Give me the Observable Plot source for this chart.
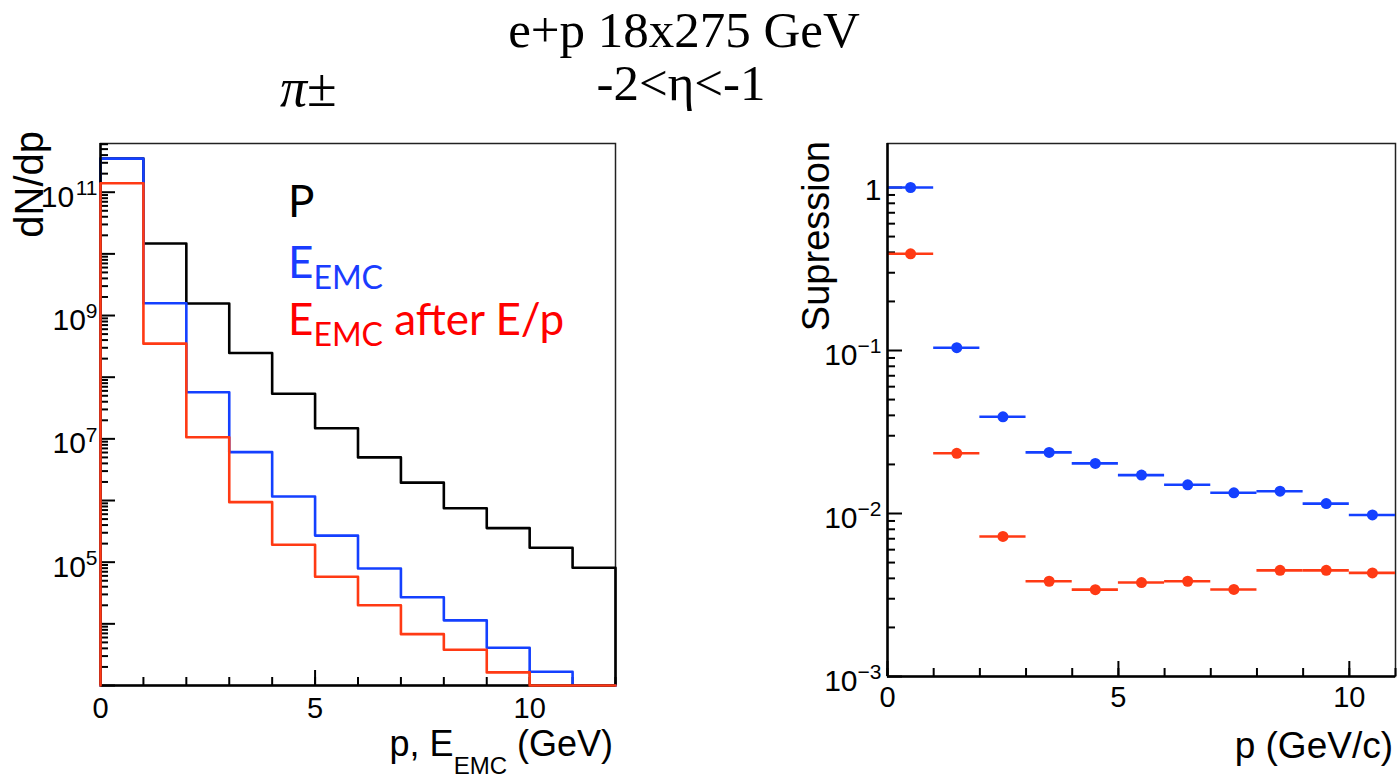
<!DOCTYPE html>
<html>
<head>
<meta charset="utf-8">
<script src="https://cdn.jsdelivr.net/npm/d3@7"></script>
<script src="https://cdn.jsdelivr.net/npm/@observablehq/plot@0.6"></script>
<style>
  html, body { margin: 0; padding: 0; background: #fff; }
  #wrap { position: relative; width: 1399px; height: 782px; overflow: hidden; background: #fff; }
  #left { position: absolute; left: 0; top: 0; }
  #right { position: absolute; left: 700px; top: 0; }
  #overlay { position: absolute; left: 0; top: 0; pointer-events: none; }
</style>
</head>
<body>
<div id="wrap">
  <div id="left"></div>
  <div id="right"></div>
  <svg id="overlay" width="1399" height="782">
    <text x="684" y="47" text-anchor="middle" font-family="Liberation Serif" font-size="51">e+p 18x275 GeV</text>
    <text x="681" y="100" text-anchor="middle" font-family="Liberation Serif" font-size="51">-2&lt;η&lt;-1</text>
    <text x="280" y="106" font-family="Liberation Serif" font-size="54"><tspan font-style="italic">π</tspan>±</text>
    <text transform="translate(43,131) rotate(-90)" text-anchor="end" font-family="Liberation Sans" font-size="40">dN/dp</text>
    <text transform="translate(829,141) rotate(-90)" text-anchor="end" font-family="Liberation Sans" font-size="38">Supression</text>
    <text x="613" y="756" text-anchor="end" font-family="Liberation Sans" font-size="36">p, E<tspan font-size="24" dy="18">EMC</tspan><tspan dy="-18"> (GeV)</tspan></text>
    <text x="1393" y="758" text-anchor="end" font-family="Liberation Sans" font-size="37">p (GeV/c)</text>
    <text x="288" y="217" font-family="Lato" font-size="44" fill="#000">P</text>
    <text x="288" y="278" font-family="Lato" font-size="44" fill="#1a3cff">E<tspan font-size="32" dy="11">EMC</tspan></text>
    <text x="288" y="335" font-family="Lato" font-size="44" fill="#ff0000">E<tspan font-size="32" dy="11">EMC</tspan><tspan dy="-11"> after E/p</tspan></text>
  </svg>
</div>
<script>
// ---------- data ----------
// Left: dN/dp histograms, bin edges in GeV
const binEdges = [0, 1, 2, 3, 4, 5, 6, 7, 8, 9, 10, 11, 12];
const countP      = [3.5e11, 1.47e10, 1.57e9, 2.47e8, 5.4e7, 1.49e7, 5.0e6, 1.95e6, 7.5e5, 3.57e5, 1.71e5, 8.1e4];
const countEmc    = [3.5e11, 1.58e9, 5.7e7, 6.1e6, 1.16e6, 2.7e5, 7.9e4, 2.7e4, 1.14e4, 4.1e3, 1.67e3, 0];
const countEmcEp  = [1.4e11, 3.5e8, 1.06e7, 9.4e5, 1.92e5, 5.8e4, 2.0e4, 6.8e3, 3.8e3, 1.63e3, 0, 0];
const leftYTicks  = [1e5, 1e7, 1e9, 1e11];
const leftXTicks  = [0, 5, 10];

// Right: suppression factors, bin edges in GeV/c
const supEdges    = [0, 1, 2, 3, 4, 5, 6, 7, 8, 9, 10, 11];
const supEmc      = [1.0, 0.104, 0.0392, 0.0237, 0.0203, 0.0172, 0.0150, 0.0134, 0.0137, 0.0115, 0.0098];
const supEmcEp    = [0.392, 0.0234, 0.00723, 0.00384, 0.00341, 0.00377, 0.00384, 0.00342, 0.00448, 0.00448, 0.00432];
const rightYTicks = [1e-3, 1e-2, 1e-1, 1];
const rightXTicks = [0, 5, 10];

const colP = "#000000", colEmc = "#1440ff", colEmcEp = "#ff3a14";

// ---------- helpers ----------
function logMinor(lo, hi) {
  const out = [];
  for (let e = Math.floor(Math.log10(lo)); e <= Math.ceil(Math.log10(hi)); e++) {
    for (let k = 2; k <= 9; k++) {
      const v = k * Math.pow(10, e);
      if (v >= lo && v <= hi) out.push(v);
    }
  }
  return out;
}
function logMajor(lo, hi) {
  const out = [];
  for (let e = Math.ceil(Math.log10(lo) - 1e-9); e <= Math.floor(Math.log10(hi) + 1e-9); e++) out.push(Math.pow(10, e));
  return out;
}
function stepPoints(edges, vals, floor, series) {
  const pts = [{x: edges[0], y: floor, s: series}];
  vals.forEach((v, i) => pts.push({x: edges[i], y: Math.max(v, floor), s: series}));
  const last = edges.length - 1;
  pts.push({x: edges[last], y: Math.max(vals[vals.length - 1], floor), s: series});
  pts.push({x: edges[last], y: floor, s: series});
  return pts;
}
// inward ticks: a tick spanning the frame, inset so only `len` pixels remain at the axis side
function yTicksIn(values, innerW, len) {
  return Plot.tickY(values, {y: d => d, insetRight: innerW - len, stroke: "#000", strokeWidth: 2});
}
function xTicksIn(values, innerH, len) {
  return Plot.tickX(values, {x: d => d, insetTop: innerH - len, stroke: "#000", strokeWidth: 2});
}
// ROOT-style power-of-ten labels: "10" with a raised, smaller exponent
function powLabels(ticks, xAt, pad, baseSize, expSize) {
  const marks = [];
  ticks.forEach(t => {
    const e = Math.round(Math.log10(t));
    if (e === 0) {
      marks.push(Plot.text([t], {x: () => xAt, y: d => d, text: () => "1", textAnchor: "end", dx: -pad, dy: 3, fontSize: baseSize}));
      return;
    }
    const es = String(e).replace("-", "−");
    const w = [...es].reduce((s, c) => s + (c === "−" ? 0.584 : 0.556) * expSize, 0);
    marks.push(Plot.text([t], {x: () => xAt, y: d => d, text: () => "10", textAnchor: "end", dx: -pad - w, dy: 5, fontSize: baseSize}));
    marks.push(Plot.text([t], {x: () => xAt, y: d => d, text: () => es, textAnchor: "end", dx: -pad, dy: -4, fontSize: expSize}));
  });
  return marks;
}

const fontStyle = {fontFamily: "Liberation Sans, Arial, sans-serif", fontSize: "30px", overflow: "visible", background: "transparent"};

// ---------- left chart ----------
const L = {width: 700, height: 782, marginLeft: 100, marginRight: 85, marginTop: 143, marginBottom: 97};
const LW = L.width - L.marginLeft - L.marginRight, LH = L.height - L.marginTop - L.marginBottom;
const leftY = [1e3, Math.pow(10, 11.79)];
const leftX = [binEdges[0], binEdges[binEdges.length - 1]];
const xInts = d3.range(leftX[0], leftX[1] + 1);

const left = Plot.plot({
  ...L,
  style: fontStyle,
  x: {domain: leftX, axis: null},
  y: {type: "log", domain: leftY, axis: null},
  marks: [
    Plot.frame({stroke: "#222", strokeWidth: 1.5}),
    yTicksIn(logMinor(leftY[0], leftY[1]), LW, 8),
    yTicksIn(logMajor(leftY[0], leftY[1]), LW, 15),
    xTicksIn(xInts, LH, 8),
    xTicksIn(leftXTicks, LH, 15),
    Plot.line(stepPoints(binEdges, countP, leftY[0], "P"), {x: "x", y: "y", curve: "step-after", stroke: colP, strokeWidth: 2.6}),
    Plot.line(stepPoints(binEdges, countEmc, leftY[0], "EMC"), {x: "x", y: "y", curve: "step-after", stroke: colEmc, strokeWidth: 2.6}),
    Plot.ruleX([leftX[0]], {stroke: "#000", strokeWidth: 2.5}),
    Plot.ruleY([leftY[0]], {stroke: "#000", strokeWidth: 2.5}),
    Plot.line(stepPoints(binEdges, countEmcEp, leftY[0], "EMCEp"), {x: "x", y: "y", curve: "step-after", stroke: colEmcEp, strokeWidth: 2.6}),
    ...powLabels(leftYTicks, leftX[0], 3, 30, 21),
    Plot.axisX({ticks: leftXTicks, tickFormat: d => String(d), tickSize: 0, tickPadding: 12, fontSize: 29, label: null})
  ]
});
document.getElementById("left").appendChild(left);

// ---------- right chart ----------
const R = {width: 699, height: 782, marginLeft: 187, marginRight: 4, marginTop: 143, marginBottom: 106};
const RW = R.width - R.marginLeft - R.marginRight, RH = R.height - R.marginTop - R.marginBottom;
const rightY = [1e-3, Math.pow(10, 0.27)];
const rightX = [supEdges[0], supEdges[supEdges.length - 1]];
const rInts = d3.range(rightX[0], rightX[1] + 1);
const supRows = [];
supEmc.forEach((v, i) => supRows.push({x1: supEdges[i], x2: supEdges[i + 1], y: v, s: "EMC"}));
supEmcEp.forEach((v, i) => supRows.push({x1: supEdges[i], x2: supEdges[i + 1], y: v, s: "EMCEp"}));
const colOf = s => s === "EMC" ? colEmc : colEmcEp;

const right = Plot.plot({
  ...R,
  style: fontStyle,
  x: {domain: rightX, axis: null},
  y: {type: "log", domain: rightY, axis: null},
  marks: [
    Plot.frame({stroke: "#222", strokeWidth: 1.5}),
    yTicksIn(logMinor(rightY[0], rightY[1]), RW, 8),
    yTicksIn(logMajor(rightY[0], rightY[1]), RW, 15),
    xTicksIn(rInts, RH, 8),
    xTicksIn(rightXTicks, RH, 15),
    Plot.ruleY(supRows, {y: "y", x1: "x1", x2: "x2", stroke: d => colOf(d.s), strokeWidth: 2.6}),
    Plot.dot(supRows, {x: d => (d.x1 + d.x2) / 2, y: "y", r: 5.5, fill: d => colOf(d.s), stroke: "none"}),
    Plot.ruleX([rightX[0]], {stroke: "#000", strokeWidth: 2.5}),
    Plot.ruleY([rightY[0]], {stroke: "#000", strokeWidth: 2.5}),
    ...powLabels(rightYTicks, rightX[0], 6, 30, 21),
    Plot.axisX({ticks: rightXTicks, tickFormat: d => String(d), tickSize: 0, tickPadding: 10, fontSize: 29, label: null})
  ]
});
document.getElementById("right").appendChild(right);
</script>
</body>
</html>
